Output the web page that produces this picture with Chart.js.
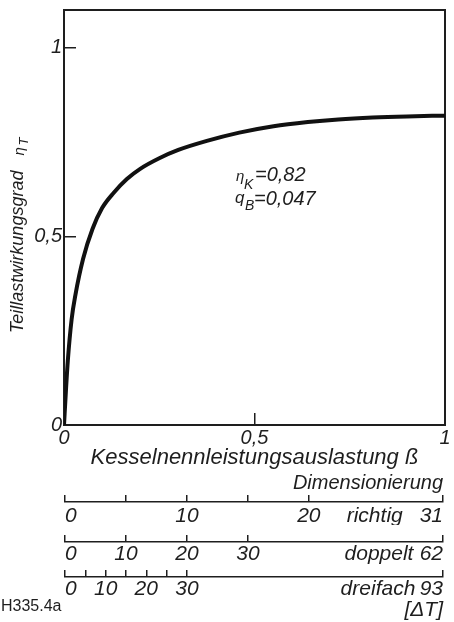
<!DOCTYPE html>
<html>
<head>
<meta charset="utf-8">
<script src="https://cdn.jsdelivr.net/npm/chart.js@4.4.1/dist/chart.umd.min.js"></script>
<style>
  html, body { margin: 0; padding: 0; background: #fff; }
  #wrap { width: 454px; height: 622px; }
  canvas { display: block; }
</style>
</head>
<body>
<div id="wrap">
  <canvas id="main" width="454" height="470"></canvas>
  <canvas id="richtig" width="454" height="55"></canvas>
  <canvas id="doppelt" width="454" height="40"></canvas>
  <canvas id="dreifach" width="454" height="57"></canvas>
</div>
<script>
// Kesselnennleistungsauslastung (x) und Teillastwirkungsgrad (y)
var beta = [0, 0.005, 0.01, 0.02, 0.03, 0.05, 0.075, 0.1, 0.13, 0.165, 0.2, 0.25, 0.3, 0.375, 0.46, 0.55, 0.64, 0.72, 0.81, 0.9, 1.0];
var etaT = [0, 0.09, 0.17, 0.28, 0.345, 0.44, 0.52, 0.575, 0.615, 0.652, 0.679, 0.707, 0.729, 0.753, 0.775, 0.792, 0.803, 0.81, 0.815, 0.818, 0.82];

var xTicks = [0, 0.5, 1];
var xLabels = ['0', '0,5', '1'];
var yTicks = [0, 0.5, 1];
var yLabels = ['0', '0,5', '1'];

// Dimensionierung: Temperaturskalen [ΔT]
var richtigTicks = [0, 5, 10, 15, 20, 25.4, 31];
var richtigLabels = ['0', '', '10', '', '20', 'richtig', '31'];
var doppeltTicks = [0, 10, 20, 30, 51.5, 62];
var doppeltLabels = ['0', '10', '20', '30', 'doppelt', '62'];
var dreifachTicks = [0, 5, 10, 15, 20, 25, 30, 77, 93];
var dreifachLabels = ['0', '', '10', '', '20', '', '30', 'dreifach', '93'];

var ink = '#1e1e1e';
var fam = '"Liberation Sans", Arial, sans-serif';
Chart.defaults.font.family = fam;
Chart.defaults.color = ink;

function fixTicks(vals) {
    return function (s) { s.ticks = vals.map(function (v) { return {value: v}; }); };
}
function noPad(s) {
    s.paddingLeft = 0; s.paddingRight = 0; s.paddingTop = 0; s.paddingBottom = 0;
}

// Rahmen, Achsentitel mit Index, Kennwerte
var mainTexts = {
    id: 'mainTexts',
    beforeDatasetsDraw: function (chart) {
        var a = chart.chartArea, c = chart.ctx;
        c.save();
        c.strokeStyle = ink;
        c.lineWidth = 2;
        c.strokeRect(a.left, a.top, a.right - a.left, a.bottom - a.top);
        c.restore();
    },
    afterDraw: function (chart) {
        var c = chart.ctx;
        c.save();
        c.fillStyle = ink;
        c.textBaseline = 'alphabetic';
        c.textAlign = 'left';
        // y-Titel, gedreht
        c.translate(23, 333);
        c.rotate(-Math.PI / 2);
        c.font = 'italic 18px ' + fam;
        var t = 'Teillastwirkungsgrad';
        c.fillText(t, 0, 0);
        var w = c.measureText(t).width;
        c.font = 'italic 15px ' + fam;
        c.fillText('\u03b7', w + 15, 1);
        c.font = 'italic 13px ' + fam;
        c.fillText('T', w + 25, 5);
        c.restore();

        c.save();
        c.fillStyle = ink;
        c.textAlign = 'left';
        c.font = 'italic 15px ' + fam;
        c.fillText('\u03b7', 236, 181);
        c.font = 'italic 14px ' + fam;
        c.fillText('K', 244, 189);
        c.font = 'italic 20px ' + fam;
        c.fillText('=0,82', 255, 181);
        c.font = 'italic 17px ' + fam;
        c.fillText('q', 235, 203);
        c.font = 'italic 14px ' + fam;
        c.fillText('B', 245, 210);
        c.font = 'italic 20px ' + fam;
        c.fillText('=0,047', 254, 205);
        c.restore();
    }
};

new Chart(document.getElementById('main').getContext('2d'), {
    type: 'line',
    data: {
        datasets: [{
            data: beta.map(function (b, i) { return {x: b, y: etaT[i]}; }),
            borderColor: '#111',
            borderWidth: 4,
            pointRadius: 0,
            cubicInterpolationMode: 'monotone',
            fill: false
        }]
    },
    options: {
        responsive: false,
        animation: false,
        layout: {padding: {left: 0, top: 10, right: 9, bottom: 0}},
        plugins: {legend: {display: false}, tooltip: {enabled: false}},
        scales: {
            x: {
                type: 'linear', min: 0, max: 1,
                afterBuildTicks: fixTicks(xTicks),
                afterFit: function (s) { s.height = 45; noPad(s); },
                border: {display: false},
                grid: {drawOnChartArea: false, drawTicks: true, tickLength: -12, color: ink, lineWidth: 1.5},
                ticks: {
                    padding: 13, maxRotation: 0, autoSkip: false,
                    font: {size: 20, style: 'italic'},
                    callback: function (v, i) { return xLabels[i]; }
                },
                title: {
                    display: true, text: 'Kesselnennleistungsauslastung \u00df',
                    font: {size: 22, style: 'italic', lineHeight: 1.1},
                    padding: {top: 0, bottom: 0}
                }
            },
            y: {
                type: 'linear', min: 0, max: 1.1,
                afterBuildTicks: fixTicks(yTicks),
                afterFit: function (s) { s.width = 64; noPad(s); },
                border: {display: false},
                grid: {drawOnChartArea: false, drawTicks: true, tickLength: -12, color: ink, lineWidth: 1.5},
                ticks: {
                    padding: 14, autoSkip: false,
                    font: {size: 20, style: 'italic'},
                    callback: function (v, i) { return yLabels[i]; }
                }
            }
        }
    },
    plugins: [mainTexts]
});

function scaleChart(id, maxVal, vals, labels, topPad, axisH, labelPad, title, extraPlugins) {
    return new Chart(document.getElementById(id).getContext('2d'), {
        type: 'scatter',
        data: {datasets: []},
        options: {
            responsive: false,
            animation: false,
            layout: {padding: {left: 65, right: 11, top: topPad, bottom: 0}},
            plugins: {
                legend: {display: false},
                tooltip: {enabled: false},
                title: title ? {
                    display: true, text: title, align: 'end', color: ink,
                    font: {size: 20, style: 'italic', weight: 'normal', lineHeight: 1.2},
                    padding: {top: 1, bottom: 0}
                } : {display: false}
            },
            scales: {
                x: {
                    type: 'linear', min: 0, max: maxVal,
                    afterBuildTicks: fixTicks(vals),
                    afterFit: function (s) { s.height = axisH; noPad(s); },
                    border: {display: true, color: ink, width: 1.5},
                    grid: {
                        drawOnChartArea: true, drawTicks: false, lineWidth: 1.5,
                        color: function (c) { return /[a-z]/.test(labels[c.index] || '') ? 'rgba(0,0,0,0)' : ink; }
                    },
                    ticks: {
                        padding: labelPad, maxRotation: 0, autoSkip: false, align: 'inner',
                        font: {size: 21, style: 'italic'},
                        callback: function (v, i) { return labels[i]; }
                    }
                },
                y: {display: false, min: 0, max: 1}
            }
        },
        plugins: extraPlugins || []
    });
}

var footer = {
    id: 'footer',
    afterDraw: function (chart) {
        var c = chart.ctx;
        c.save();
        c.fillStyle = ink;
        c.textAlign = 'left';
        c.font = '16px ' + fam;
        c.fillText('H335.4a', 1, 46);
        c.textAlign = 'right';
        c.font = 'italic 21px ' + fam;
        c.fillText('[\u0394T]', 443, 51);
        c.restore();
    }
};

scaleChart('richtig', 31, richtigTicks, richtigLabels, 0, 23, 2, 'Dimensionierung');
scaleChart('doppelt', 62, doppeltTicks, doppeltLabels, 10, 23, 0, null);
scaleChart('dreifach', 93, dreifachTicks, dreifachLabels, 5, 45, 0, null, [footer]);
</script>
</body>
</html>
